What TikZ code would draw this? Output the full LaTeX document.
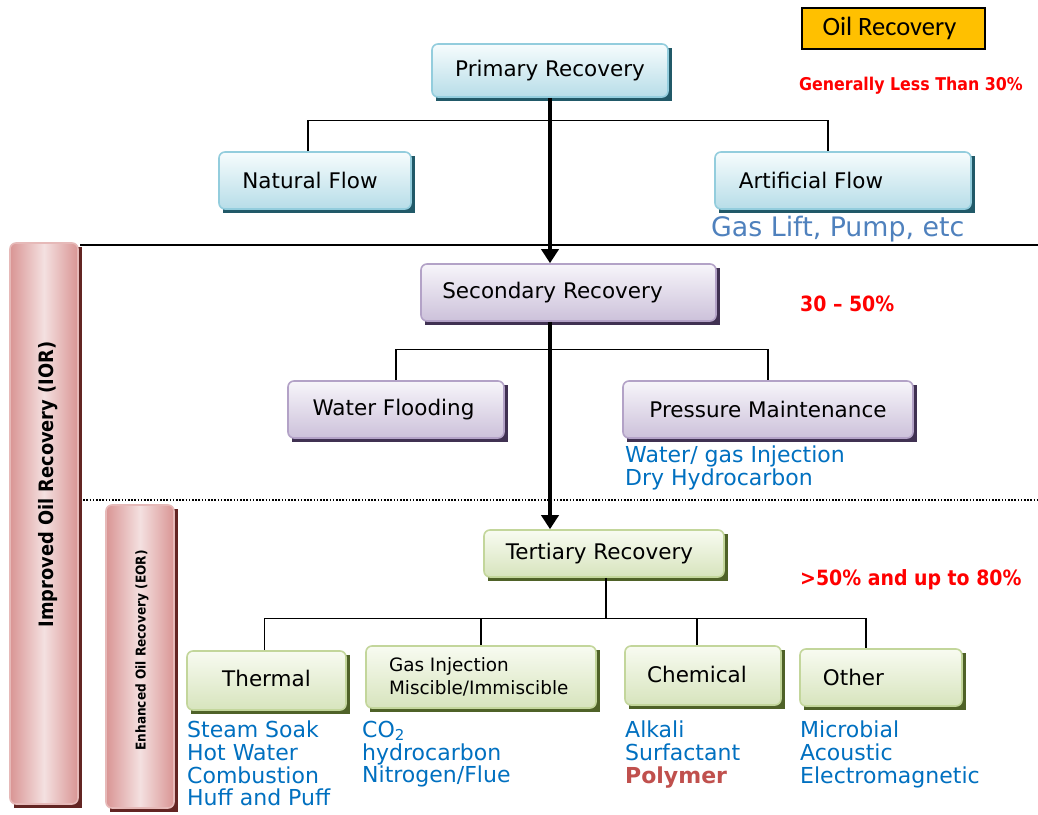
\documentclass[tikz,border=0pt]{standalone}
\usepackage{fontspec}
\setmainfont{DejaVu Sans}
\newfontfamily\condf{DejaVu Sans Condensed}
\newfontfamily\calib{Carlito}
\usetikzlibrary{arrows.meta}
\definecolor{cyT}{HTML}{F6FCFD}\definecolor{cyB}{HTML}{B7DDE8}\definecolor{cyD}{HTML}{93CDDD}\definecolor{cyS}{HTML}{215968}
\definecolor{puT}{HTML}{F7F5FA}\definecolor{puB}{HTML}{CCC1DA}\definecolor{puD}{HTML}{B3A2C7}\definecolor{puS}{HTML}{403152}
\definecolor{grT}{HTML}{F8FBF1}\definecolor{grB}{HTML}{D7E4BD}\definecolor{grD}{HTML}{C3D69B}\definecolor{grS}{HTML}{4F6228}
\definecolor{pkL}{HTML}{F4E0E0}\definecolor{pkD}{HTML}{D99594}\definecolor{pkE}{HTML}{E6B9B8}\definecolor{pkS}{HTML}{632523}
\definecolor{listblue}{HTML}{0070C0}\definecolor{liftblue}{HTML}{4F81BD}
\definecolor{polyred}{HTML}{C0504D}\definecolor{orangebox}{HTML}{FFC000}
\tikzset{
  rb/.style={rounded corners=6, line width=1.6, inner sep=0pt, font=\fontsize{21.5}{25}\selectfont},
  cy/.style={draw=cyD, top color=cyT, bottom color=cyB},
  cysh/.style={fill=cyS},
  pu/.style={draw=puD, top color=puT, bottom color=puB},
  push/.style={fill=puS},
  gr/.style={draw=grD, top color=grT, bottom color=grB},
  grsh/.style={fill=grS},
  pk/.style={draw=pkE, left color=pkD, right color=pkD, middle color=pkL},
  pksh/.style={fill=pkS},
  tree/.style={line width=1.3, black},
  mainarrow/.style={line width=3.6, -{Triangle[length=14,width=17]}},
  listtext/.style={font=\fontsize{22}{22.6}\selectfont, text=listblue, align=left, inner sep=0pt, anchor=north west},
  redtext/.style={font=\condf\bfseries\fontsize{21}{24}\selectfont, text=red, inner sep=0pt, anchor=base west},
}
\newcommand{\rbox}[7]{%
  \fill[#6sh] (#2+4,#3+4) rectangle (#4+4,#5+4);
  \node[rb, #6, minimum width={(#4-#2)*1pt}, minimum height={(#5-#3)*1pt}] (#1) at ({(#2+#4)/2},{(#3+#5)/2}) {#7};
}
\newcommand{\gap}[1]{\rule{#1}{0pt}}
\begin{document}
\begin{tikzpicture}[x=1pt,y=-1pt]
\useasboundingbox[fill=white] (0,0) rectangle (1038,814);
% separators
\draw[line width=1.4] (80,245) coordinate (hl1) -- (1038,245) coordinate (hl2);
\draw[line width=1.6, dash pattern=on 1.6pt off 1.6pt] (80,500) coordinate (dl1) -- (1038,500) coordinate (dl2);
% side bars
\rbox{ior}{10}{243}{78}{804}{pk}{}
\node[rotate=90, font=\condf\bfseries\fontsize{19.8}{22}\selectfont] (iort) at ([xshift=4,yshift=39]ior) {Improved Oil Recovery (IOR)};
\rbox{eor}{106}{505}{174}{808}{pk}{}
\node[rotate=90, font=\condf\bfseries\fontsize{13.5}{16}\selectfont] (eort) at ([xshift=2,yshift=6]eor) {Enhanced Oil Recovery (EOR)};
% legend
\node[draw=black, line width=1.3, fill=orangebox, minimum width=183pt, minimum height=41pt, font=\calib\fontsize{26.5}{30}\selectfont] (oil) at (893.5,28.5) {Oil Recovery\gap{8pt}};
\node[redtext, font=\condf\bfseries\fontsize{17.6}{20}\selectfont] (gl) at (799,90) {Generally Less Than 30\%};
\node[redtext] (r2) at (800,311) {30 – 50\%};
\node[redtext] (r3) at (800,585) {>50\% and up to 80\%};
% primary level
\rbox{p}{432}{44}{668}{97}{cy}{Primary Recovery}
\rbox{nf}{219}{152}{411}{209}{cy}{Natural Flow\gap{10pt}}
\rbox{af}{715}{152}{971}{209}{cy}{Artificial Flow\gap{64pt}}
\node[inner sep=0pt, anchor=base west, text=liftblue, font=\fontsize{26.8}{30}\selectfont] (lift) at (711,236) {Gas Lift, Pump, etc};
% secondary
\rbox{s}{421}{264}{716}{321}{pu}{Secondary Recovery\gap{32pt}}
\rbox{wf}{288}{381}{504}{438}{pu}{Water Flooding\gap{5pt}}
\rbox{pm}{623}{381}{913}{438}{pu}{Pressure Maintenance}
\node[listtext] (pml) at (625,446) {Water/ gas Injection\\Dry Hydrocarbon};
% tertiary
\rbox{t}{484}{530}{724}{577}{gr}{Tertiary Recovery\gap{9pt}}
\rbox{th}{187}{651}{346}{710}{gr}{\raisebox{4pt}{Thermal}}
\rbox{gi}{366}{646}{596}{708}{gr}{\begin{minipage}{184pt}\fontsize{18.4}{23}\selectfont Gas Injection\\Miscible/Immiscible\end{minipage}}
\rbox{ch}{625}{646}{781}{705}{gr}{\raisebox{3pt}{Chemical\gap{12pt}}}
\rbox{ot}{800}{649}{962}{706}{gr}{\raisebox{1pt}{Other\gap{55pt}}}
\node[listtext] (thl) at (187,721) {Steam Soak\\Hot Water\\Combustion\\Huff and Puff};
\node[listtext] (gil) at (362,721) {CO{\fontsize{15}{15}\selectfont\raisebox{-3pt}{2}}\\hydrocarbon\\Nitrogen/Flue};
\node[listtext] (chl) at (625,721) {Alkali\\Surfactant\\\textbf{\textcolor{polyred}{Polymer}}};
\node[listtext] (otl) at (800,721) {Microbial\\Acoustic\\Electromagnetic};
% tree connectors
\draw[tree] ([xshift=-7]nf.north) -- ++(0,-31) -| ([xshift=-15]af.north);
\draw[tree] (wf.north) -- ++(0,-31) -| (pm.north);
\draw[tree] ([xshift=2]t.south) -- ++(0,41) coordinate (tj);
\draw[tree] ([xshift=-2]th.north) |- (tj) -| ([xshift=-15]ot.north);
\draw[tree] (gi.north) -- (gi.north |- tj);
\draw[tree] ([xshift=-6]ch.north) -- ([xshift=-6]ch.north |- tj);
% main arrows
\draw[mainarrow] (p.south) -- (p.south |- s.north);
\draw[mainarrow] (p.south |- s.south) -- (p.south |- t.north);
\end{tikzpicture}
\end{document}
